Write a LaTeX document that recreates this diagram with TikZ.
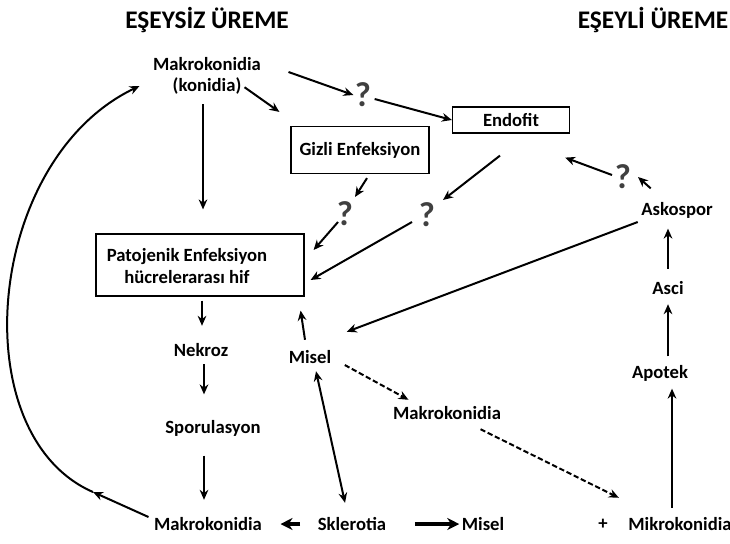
\documentclass[tikz,border=0pt]{standalone}
\usepackage{fontspec}
\setmainfont{Carlito}
\usetikzlibrary{calc}
\usetikzlibrary{arrows.meta}
\usetikzlibrary{positioning}
\tikzset{lbl/.style={font=\bfseries\fontsize{14}{16}\selectfont,inner sep=1pt,align=center}}
\tikzset{box/.style={rectangle,draw=black,line width=0.9pt,inner sep=0pt}}
\tikzset{qmark/.style={font=\bfseries\fontsize{26}{26}\selectfont,text=black!75,inner sep=1pt}}
\tikzset{heading/.style={font=\bfseries\fontsize{19}{21}\selectfont}}
\tikzset{flow/.style={->,line width=1.5pt}}
\tikzset{dflow/.style={->,line width=1.5pt,dash pattern=on 4pt off 2pt}}
\tikzset{heavy/.style={-{Stealth[length=9pt,width=9pt]},line width=3pt}}

\begin{document}
\begin{tikzpicture}[x=0.75pt,y=-0.75pt,>={Stealth[length=7.5pt,width=6.5pt]}]
    \useasboundingbox (0,0) rectangle (730,543);
    \node[heading] (asex) at (207,20) {EŞEYSİZ ÜREME};
    \node[heading] (sex) at (653,20) {EŞEYLİ ÜREME};
    \node[lbl] (mkt) at (207,76) {Makrokonidia\\(konidia)};
    \node[qmark] (q1) at (363,95) {?};
    \node[lbl, box, minimum width=87.75pt, minimum height=19.5pt] (endo) at (511,120) {Endofit};
    \node[lbl, box, minimum width=103.5pt, minimum height=35.25pt] (gizli) at (360,150) {Gizli Enfeksiyon};
    \node[qmark] (q2) at (345,214) {?};
    \node[qmark] (q3) at (427,215) {?};
    \node[qmark] (q4) at (623,177) {?};
    \node[lbl] (asko) at (677,210) {Askospor};
    \node[box, minimum width=156pt, minimum height=46.5pt] (pato) at (200,265) {};
    \node[lbl] (patotxt) at (187,266) {Patojenik Enfeksiyon\\hücrelerarası hif};
    \node[lbl] (nek) at (201,350) {Nekroz};
    \node[lbl] (misel1) at (310,357) {Misel};
    \node[lbl] (mkm) at (447,413) {Makrokonidia};
    \node[lbl] (spor) at (213,428) {Sporulasyon};
    \node[lbl] (asci) at (668,288) {Asci};
    \node[lbl] (apot) at (660,373) {Apotek};
    \node[lbl] (mkb) at (208,524) {Makrokonidia};
    \node[lbl] (skl) at (352,524) {Sklerotia};
    \node[lbl] (misel2) at (483,524) {Misel};
    \node[lbl] (plus) at (603,524) {+};
    \node[lbl] (mikro) at (680,524) {Mikrokonidia};
    \coordinate (bend) at (93,492);

    \draw[flow] ($(mkt.south)+(-4,8)$) -- ($(pato.north)+(3,-24)$);
    \draw[flow] ($(mkt.south east)+(-18,-9)$) -- ($(gizli.north west)+(-11,-14)$);
    \draw[flow] ($(mkt.east)+(26,-4)$) -- (q1.west);
    \draw[flow] ($(q1.east)+(2,4)$) -- (endo.west);
    \draw[flow] ($(gizli.south)+(7,4)$) -- ($(q2)+(10,-17)$);
    \draw[flow] ($(q2)+(-7,8)$) -- ($(pato.east)+(9,-15)$);
    \draw[flow] ($(endo.south)+(-11,22)$) -- ($(q3)+(16,-15)$);
    \draw[flow] ($(q3)+(-15,7)$) -- ($(pato.east)+(6,15)$);
    \draw[flow] ($(q4)+(-11,-2)$) -- ($(endo.south east)+(-5,24)$);
    \draw[flow] ($(asko.north west)+(11,-12)$) -- ($(q4)+(15,0)$);
    \draw[flow] ($(asko.west)+(-2,12)$) -- ($(misel1.north east)+(14,-17)$);
    \draw[flow] ($(misel1.north)+(-5,-9)$) -- ($(pato.south east)+(-4,14)$);
    \draw[flow] ($(pato.south)+(2,4)$) -- ($(nek.north)+(1,-16)$);
    \draw[flow] ($(nek.south)+(3,6)$) -- ($(nek.south |- spor.north)+(3,-24)$);
    \draw[flow] ($(spor.south)+(-9,18)$) -- ($(mkb.north)+(-4,-16)$);
    \draw[flow] ($(mkb.west)+(-4,-7)$) -- (bend);
    \draw[flow] (bend) .. controls (-38,435) and (-15,160) .. ($(mkt.west)+(-12,10)$);
    \draw[flow, <->] ($(misel1.south)+(6,6)$) -- ($(skl.north)+(-7,-13)$);
    \draw[dflow] ($(misel1.east)+(12,8)$) -- ($(mkm.north west)+(17,-5)$);
    \draw[dflow] ($(mkm.south east)+(-22,8)$) -- ($(mikro.north west)+(-8,-18)$);
    \draw[heavy] ($(skl.west)+(-16,0)$) -- ($(mkb.east)+(17,0)$);
    \draw[heavy] ($(skl.east)+(27,0)$) -- ($(misel2.west)+(-1,0)$);
    \draw[flow] ($(mikro.north)+(-8,-8)$) -- ($(mikro.north |- apot.south)+(-8,6)$);
    \draw[flow] ($(asci.south |- apot.north)+(0,-7)$) -- ($(asci.south)+(0,8)$);
    \draw[flow] ($(asci.north)+(0,-11)$) -- ($(asci.north |- asko.south)+(0,9)$);
\end{tikzpicture}
\end{document}
